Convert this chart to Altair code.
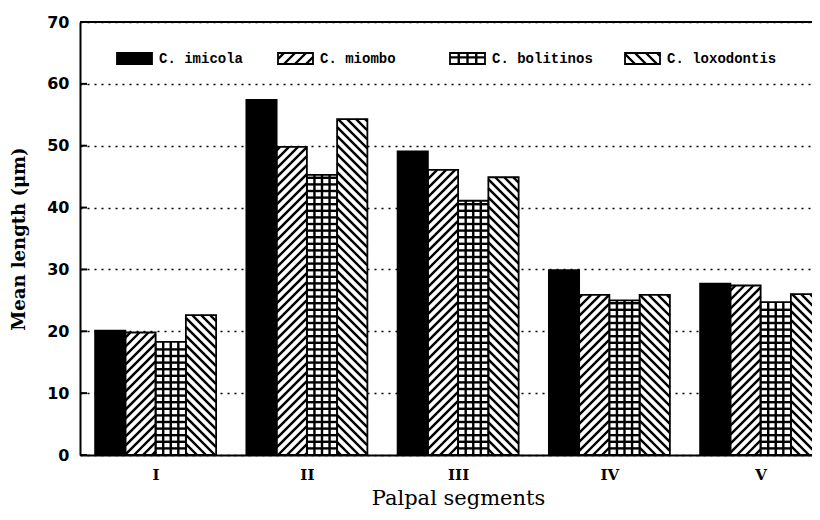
import math
import altair as alt
import pandas as pd

# ---------------- data ----------------
segments = ["I", "II", "III", "IV", "V"]
species = ["C. imicola", "C. miombo", "C. bolitinos", "C. loxodontis"]
imicola = [20.1, 57.4, 49.1, 29.9, 27.7]
miombo = [19.8, 49.8, 46.1, 25.9, 27.4]
bolitinos = [18.3, 45.3, 41.1, 25.0, 24.7]
loxodontis = [22.6, 54.3, 44.9, 25.9, 26.0]
y_ticks = [0, 10, 20, 30, 40, 50, 60, 70]

series = [imicola, miombo, bolitinos, loxodontis]
patterns = ["solid", "slash", "grid", "backslash"]

# ---------------- layout ----------------
W, H = 732, 433
GROUP_PX = 151.25
XMIN = -0.5
XMAX = XMIN + W / GROUP_PX
XS = W / (XMAX - XMIN)
YS = H / 70.0
BW = 0.2  # bar width in group units

XSC = alt.Scale(domain=[XMIN, XMAX], nice=False, zero=False)
YSC = alt.Scale(domain=[0, 70], nice=False, zero=True)


def diag(x0, x1, y0, y1, sign, p):
    U0, U1 = (x0 - XMIN) * XS, (x1 - XMIN) * XS
    V0, V1 = y0 * YS, y1 * YS
    segs = []
    if sign > 0:
        kmin = math.floor((V0 - U1) / p)
        kmax = math.ceil((V1 - U0) / p)
        for k in range(kmin, kmax + 1):
            c = k * p
            ua, ub = max(U0, V0 - c), min(U1, V1 - c)
            if ub - ua > 0.8:
                segs.append((ua, ua + c, ub, ub + c))
    else:
        kmin = math.floor((U0 + V0) / p)
        kmax = math.ceil((U1 + V1) / p)
        for k in range(kmin, kmax + 1):
            c = k * p
            ua, ub = max(U0, c - V1), min(U1, c - V0)
            if ub - ua > 0.8:
                segs.append((ua, c - ua, ub, c - ub))
    return [(a / XS + XMIN, b / YS, c / XS + XMIN, d / YS) for a, b, c, d in segs]


def grid(x0, x1, y0, y1, ncol, rowpx):
    segs = []
    for k in range(1, ncol):
        xx = x0 + (x1 - x0) * k / ncol
        segs.append((xx, y0, xx, y1))
    v = y0 * YS + rowpx
    while v < y1 * YS - 1.5:
        segs.append((x0, v / YS, x1, v / YS))
        v += rowpx
    return segs


def hatch(kind, x0, x1, y0, y1, p=9.0):
    if kind == "slash":
        return diag(x0, x1, y0, y1, 1, p)
    if kind == "backslash":
        return diag(x0, x1, y0, y1, -1, p)
    if kind == "grid":
        return grid(x0, x1, y0, y1, 4, 6.6)
    return []


bar_rows, hatch_rows = [], []
for gi, seg in enumerate(segments):
    for si, sp in enumerate(species):
        x0 = gi - 2 * BW + si * BW
        x1 = x0 + BW
        val = series[si][gi]
        bar_rows.append({"x0": x0, "x1": x1, "value": val, "base": 0.0, "species": sp})
        for a, b, c, d in hatch(patterns[si], x0, x1, 0.0, val):
            hatch_rows.append({"x": a, "y": b, "x2": c, "y2": d})

# legend (layout positions, image pixels)
leg_px = [117, 278, 450, 625]
leg_w, leg_top, leg_bot = 35, 53, 64
base_px = 22 + H
leg_rows, leg_text = [], []
for si, sp in enumerate(species):
    x0 = (leg_px[si] - 80) / XS + XMIN
    x1 = (leg_px[si] + leg_w - 80) / XS + XMIN
    y1 = (base_px - leg_top) / YS
    y0 = (base_px - leg_bot) / YS
    leg_rows.append({"x0": x0, "x1": x1, "value": y1, "base": y0, "species": sp})
    for a, b, c, d in hatch(patterns[si], x0, x1, y0, y1, p=11.0):
        hatch_rows.append({"x": a, "y": b, "x2": c, "y2": d})
    leg_text.append({"x": x1 + 7 / XS, "y": (y0 + y1) / 2, "label": sp})

bar_df = pd.DataFrame(bar_rows + leg_rows)
hatch_df = pd.DataFrame(hatch_rows)
text_df = pd.DataFrame(leg_text)
tick_df = pd.DataFrame({"v": y_ticks})
top_df = pd.DataFrame({"v": [70]})

label_expr = "[" + ",".join("'" + s + "'" for s in segments) + "][datum.value]"

xaxis = alt.Axis(
    values=list(range(len(segments))),
    labelExpr=label_expr,
    grid=False, ticks=False, tickSize=0,
    domainColor="black", domainWidth=2,
    labelFont="DejaVu Serif", labelFontSize=15, labelFontWeight="bold",
    labelColor="black", labelPadding=12, labelBaseline="top",
    title="Palpal segments", titleFont="DejaVu Serif", titleFontSize=21,
    titleFontWeight="normal", titleColor="black",
    titleX=378, titleY=49, titleAlign="center", titleBaseline="alphabetic",
)
yaxis = alt.Axis(
    values=y_ticks, grid=True, gridDash=[2, 5], gridColor="black",
    gridWidth=1.3, gridOpacity=1,
    ticks=False, tickSize=0,
    domainColor="black", domainWidth=2,
    labelFont="DejaVu Sans", labelFontSize=16, labelFontWeight="bold",
    labelColor="black", labelPadding=11,
    title="Mean length (μm)", titleFont="DejaVu Serif", titleFontSize=18,
    titleFontWeight="bold", titleColor="black",
    titleAngle=270, titleX=-61, titleY=H / 2, titleAlign="center",
    titleBaseline="middle",
)

fill_scale = alt.Scale(domain=species, range=["black", "white", "white", "white"])

bars = alt.Chart(bar_df).mark_rect(clip=True, strokeWidth=0).encode(
    x=alt.X("x0:Q", scale=XSC, axis=xaxis),
    x2="x1:Q",
    y=alt.Y("value:Q", scale=YSC, axis=yaxis),
    y2="base:Q",
    fill=alt.Fill("species:N", scale=fill_scale, legend=None),
)

hatches = alt.Chart(hatch_df).mark_rule(clip=True, color="black", strokeWidth=2.4).encode(
    x=alt.X("x:Q", scale=XSC, axis=xaxis),
    y=alt.Y("y:Q", scale=YSC, axis=yaxis),
    x2="x2:Q",
    y2="y2:Q",
)

outlines = alt.Chart(bar_df).mark_rect(
    clip=True, fillOpacity=0, stroke="black", strokeWidth=1.8
).encode(
    x=alt.X("x0:Q", scale=XSC, axis=xaxis),
    x2="x1:Q",
    y=alt.Y("value:Q", scale=YSC, axis=yaxis),
    y2="base:Q",
)

labels = alt.Chart(text_df).mark_text(
    align="left", baseline="middle", font="Liberation Mono",
    fontSize=14, fontWeight="bold", color="black",
).encode(
    x=alt.X("x:Q", scale=XSC, axis=xaxis),
    y=alt.Y("y:Q", scale=YSC, axis=yaxis),
    text="label:N",
)

ticks = alt.Chart(tick_df).mark_rule(color="black", strokeWidth=2).encode(
    y=alt.Y("v:Q", scale=YSC, axis=yaxis),
    x=alt.value(0),
    x2=alt.value(7),
)

top = alt.Chart(top_df).mark_rule(color="black", strokeWidth=2).encode(
    y=alt.Y("v:Q", scale=YSC, axis=yaxis),
    x=alt.value(0),
    x2=alt.value(W),
)

chart = alt.layer(bars, hatches, outlines, labels, ticks, top).properties(
    width=W, height=H,
    autosize=alt.AutoSizeParams(type="none"),
    padding={"left": 72, "top": 14, "right": 0, "bottom": 57},
    background="white",
).configure_view(stroke=None)

chart.save("out.html", embed_options={"renderer": "svg", "actions": False})
